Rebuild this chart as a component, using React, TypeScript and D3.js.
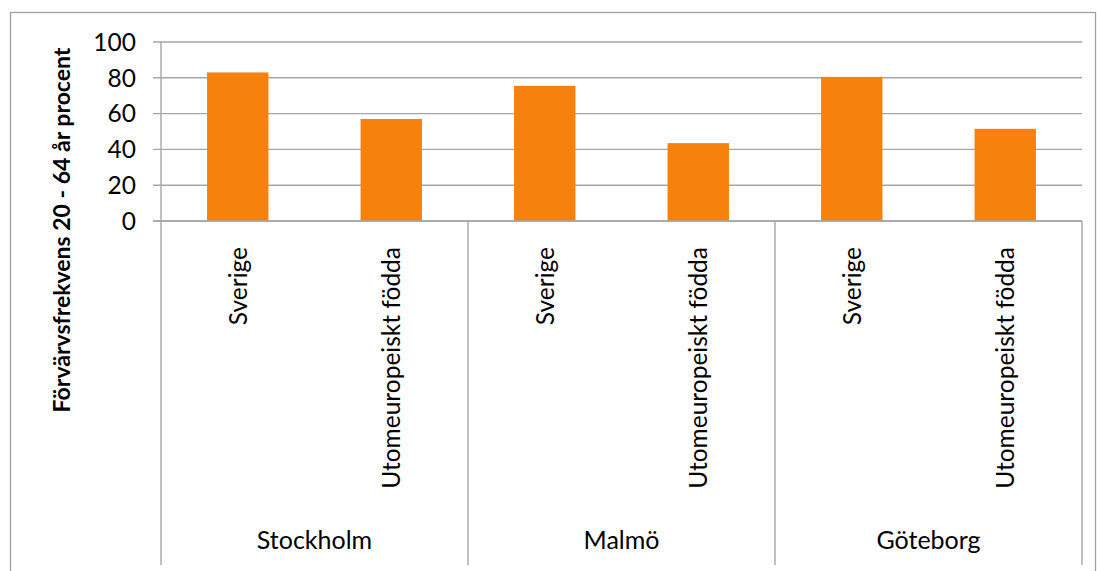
import React from 'react';
import * as d3 from 'd3';

const cities = ['Stockholm', 'Malmö', 'Göteborg'];
const groups = ['Sverige', 'Utomeuropeiskt födda'];
const values: Record<string, number[]> = {
  Stockholm: [83, 57],
  'Malmö': [75.5, 43.5],
  'Göteborg': [80.5, 51.5],
};
const yTicks = [0, 20, 40, 60, 80, 100];
const yTitle = 'Förvärvsfrekvens 20 - 64 år procent';

const W = 1097;
const H = 571;
const FONT = 'Lato, "Open Sans", sans-serif';
const GRID = '#a6a6a6';
const ORANGE = '#f6820d';

export default function App() {
  const left = 161;
  const right = 1082;
  const top = 42;
  const bottom = 221;
  const axisBottom = 565;

  const x = d3.scaleBand<string>().domain(cities).range([left, right]).paddingInner(0).paddingOuter(0);
  const xi = d3.scaleBand<string>().domain(groups).range([0, x.bandwidth()]).paddingInner(0.6).paddingOuter(0.3);
  const y = d3.scaleLinear().domain([0, 100]).range([bottom, top]);

  const dividers = [...cities.map(c => x(c) as number), right];

  return (
    <svg width={W} height={H} style={{ position: 'absolute', left: 0, top: 0, background: '#fff' }} fontFamily={FONT}>
      <rect x={10.5} y={12.5} width={1085} height={570} fill="#fff" stroke="#a0a0a0" strokeWidth={1.3} />

      {/* gridlines and ticks */}
      {yTicks.map(t => (
        <g key={t}>
          <line x1={153} x2={right} y1={y(t)} y2={y(t)} stroke={GRID} strokeWidth={1.4} />
          <text x={136} y={y(t)} dy="0.36em" textAnchor="end" fontSize={24.5} fill="#000">{t}</text>
        </g>
      ))}

      {/* bars */}
      {cities.map(c => (
        <g key={c} transform={`translate(${x(c)},0)`}>
          {groups.map((g, i) => (
            <rect key={g} x={xi(g)} y={y(values[c][i])} width={xi.bandwidth()} height={y(0) - y(values[c][i])} fill={ORANGE} />
          ))}
        </g>
      ))}

      {/* axis lines */}
      <line x1={left} x2={left} y1={top} y2={axisBottom} stroke={GRID} strokeWidth={1.4} />
      {dividers.slice(1).map(d => (
        <line key={d} x1={d} x2={d} y1={bottom} y2={axisBottom} stroke={GRID} strokeWidth={1.4} />
      ))}
      <line x1={153} x2={right} y1={bottom} y2={bottom} stroke={GRID} strokeWidth={1.4} />

      {/* inner category labels */}
      {cities.map(c =>
        groups.map(g => {
          const cx = (x(c) as number) + (xi(g) as number) + xi.bandwidth() / 2;
          return (
            <text key={c + g} transform={`translate(${cx},247) rotate(-90)`} dy="0.36em" textAnchor="end" fontSize={24.5} fill="#000">{g}</text>
          );
        })
      )}

      {/* outer category labels */}
      {cities.map(c => (
        <text key={c} x={(x(c) as number) + x.bandwidth() / 2} y={549} textAnchor="middle" fontSize={25} fill="#000">{c}</text>
      ))}

      {/* y title */}
      <text transform={`translate(70,230) rotate(-90)`} textAnchor="middle" fontSize={23} fontWeight="bold" fill="#000">{yTitle}</text>
    </svg>
  );
}
